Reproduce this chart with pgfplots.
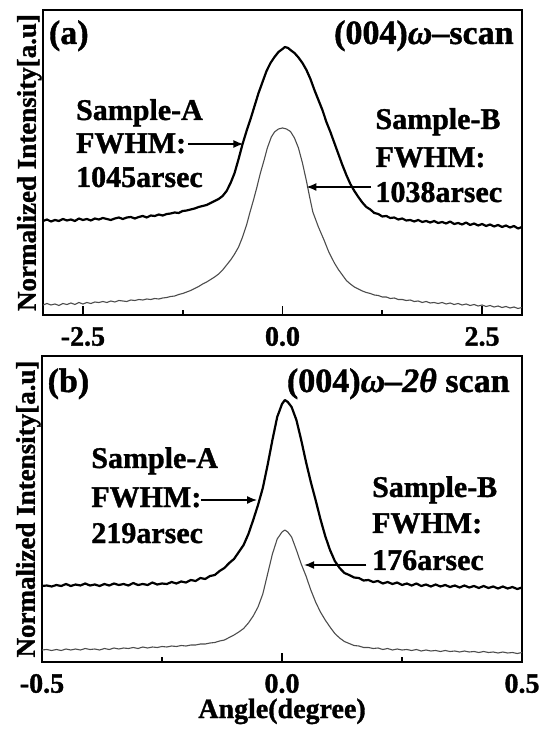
\documentclass[border=0pt]{standalone}
\usepackage{fontspec}
\setmainfont{Liberation Serif}[BoldFeatures={FakeBold=1.2}, BoldItalicFeatures={FakeBold=1.2}]
\usepackage{pgfplots}
\pgfplotsset{compat=1.18}
\usetikzlibrary{arrows.meta}
\newcommand{\ann}{\fontsize{15}{16}\selectfont\bfseries}
\newcommand{\ttl}{\fontsize{17}{18}\selectfont\bfseries}
\newcommand{\tck}{\fontsize{14}{15}\selectfont\bfseries}
\newcommand{\lab}{\fontsize{13.5}{15}\selectfont\bfseries}
\tikzset{arr/.style={black, line width=0.7pt, -{Latex[length=5pt,width=4pt]}}}
\pgfplotsset{
  panel/.style={
    anchor=south west, scale only axis,
    ymin=0, ytick=\empty,
    axis line style={line width=1.2pt},
    tick style={black, line width=0.8pt},
    tick align=inside, xtick pos=bottom,
    major tick length=4.5pt, minor tick length=2.5pt,
    xticklabel style={font=\tck, yshift=-2.5pt},
    every axis y label/.style={at={(rel axis cs:0,0.5)}, anchor=south, rotate=90, inner sep=0.5pt, font=\lab},
    ylabel={Normalized Intensity[a.u]},
    clip=true,
  },
  curveA/.style={black, line width=1.1pt, line join=round},
  curveB/.style={black!70, line width=0.55pt, line join=round},
}
\begin{document}
\begin{tikzpicture}
\path[use as bounding box] (-21pt,-36pt) rectangle (253pt,331pt);
% ---------------- panel (a)
\begin{axis}[panel, at={(0.5pt,173.5pt)}, width=239.5pt, height=152.5pt,
  xmin=-3, xmax=3, ymax=305,
  xtick={-2.5,0,2.5}, xticklabels={-2.5,0.0,2.5}, minor xtick={-1.25,1.25}]
\addplot[curveA] coordinates {
(-3.0,94) (-2.95,95.5) (-2.9,93.5) (-2.85,95) (-2.8,94) (-2.75,96) (-2.7,94.5) (-2.65,95.5) (-2.6,94)
(-2.55,96.5) (-2.5,95) (-2.45,96) (-2.4,94.5) (-2.35,96.5) (-2.3,95.5) (-2.25,97) (-2.2,96) (-2.15,95)
(-2.1,96.5) (-2.05,97.5) (-2.0,96) (-1.95,97.5) (-1.9,98) (-1.85,96.5) (-1.8,98) (-1.75,99) (-1.7,97.5)
(-1.65,99.5) (-1.6,99) (-1.55,100.5) (-1.5,99.5) (-1.45,101) (-1.4,101.5) (-1.35,102.5) (-1.3,102)
(-1.25,104) (-1.2,104.5) (-1.15,105.5) (-1.1,106.5) (-1.05,108) (-1.0,109) (-0.95,110) (-0.9,112)
(-0.85,114) (-0.8,116) (-0.75,119) (-0.7,124) (-0.65,132) (-0.6,142) (-0.55,156) (-0.5,171)
(-0.45,184) (-0.4,196) (-0.35,209) (-0.3,222) (-0.25,233) (-0.2,244) (-0.15,252) (-0.1,258)
(-0.05,263) (0.0,266) (0.03,268) (0.07,267) (0.1,265) (0.15,262) (0.2,257.5) (0.25,252) (0.3,245)
(0.35,236) (0.4,225) (0.45,215) (0.5,205) (0.55,193) (0.6,183) (0.65,172) (0.7,161) (0.75,150)
(0.8,140) (0.85,131) (0.9,124) (0.95,118) (1.0,112.5) (1.05,108) (1.1,105.5) (1.15,102) (1.2,101)
(1.25,98.5) (1.3,99) (1.35,97) (1.4,97.5) (1.45,95.5) (1.5,96.5) (1.55,94.5) (1.6,95) (1.65,93.5)
(1.7,95) (1.75,93) (1.8,94) (1.85,92.5) (1.9,94) (1.95,92) (2.0,93) (2.05,91.5) (2.1,93.5) (2.15,91)
(2.2,92) (2.25,90.5) (2.3,92.5) (2.35,90) (2.4,91.5) (2.45,89.5) (2.5,91) (2.55,89) (2.6,90.5)
(2.65,88.5) (2.7,90) (2.75,88) (2.8,89.5) (2.85,87.5) (2.9,89) (2.95,86.5) (3.0,88)
};
\addplot[curveB] coordinates {
(-3.0,10) (-2.95,11.5) (-2.9,10) (-2.85,11) (-2.8,9.5) (-2.75,11.5) (-2.7,10.5) (-2.65,12) (-2.6,10.5)
(-2.55,12.5) (-2.5,11) (-2.45,12.5) (-2.4,11.5) (-2.35,13) (-2.3,12.5) (-2.25,13.5) (-2.2,12.5)
(-2.15,14) (-2.1,13) (-2.05,14.5) (-2.0,14) (-1.95,13.5) (-1.9,15) (-1.85,14.5) (-1.8,15.5) (-1.75,15)
(-1.7,16) (-1.65,15.5) (-1.6,16.5) (-1.55,16) (-1.5,17) (-1.45,17.5) (-1.4,18.5) (-1.35,19) (-1.3,20.5)
(-1.25,21.5) (-1.2,23) (-1.15,24.5) (-1.1,26.5) (-1.05,28.5) (-1.0,31) (-0.95,33) (-0.9,35.5)
(-0.85,38) (-0.8,41) (-0.75,45) (-0.7,50) (-0.65,55) (-0.6,61) (-0.55,68) (-0.5,78) (-0.45,90)
(-0.41,102) (-0.36,116) (-0.32,128) (-0.28,141) (-0.23,155) (-0.19,167) (-0.14,178) (-0.1,183)
(-0.05,186) (0.0,187) (0.05,186) (0.1,183.5) (0.15,177) (0.2,167) (0.25,152) (0.3,134) (0.34,118)
(0.38,103) (0.45,88) (0.52,75) (0.58,63) (0.65,52) (0.7,45.5) (0.75,40) (0.8,34.5) (0.85,31)
(0.9,28) (0.95,26) (1.0,24) (1.05,22.5) (1.1,21.5) (1.15,20) (1.2,19.5) (1.25,18) (1.3,18) (1.35,16.5)
(1.4,17) (1.45,15.5) (1.5,15.5) (1.55,14.5) (1.6,15) (1.65,13.5) (1.7,14) (1.75,12.5) (1.8,13.5)
(1.85,12) (1.9,12.5) (1.95,11.5) (2.0,12.5) (2.05,11) (2.1,12) (2.15,10.5) (2.2,11.5) (2.25,10)
(2.3,11) (2.35,9.5) (2.4,10.5) (2.45,9) (2.5,10) (2.55,8.5) (2.6,9.5) (2.65,8) (2.7,9) (2.75,7.5)
(2.8,8.5) (2.85,7) (2.9,8) (2.95,6.5) (3.0,7.5)
};
\draw[arr] (axis cs:-1.18,171) -- (axis cs:-0.49,171);
\draw[arr] (axis cs:1.11,128) -- (axis cs:0.30,128);
\node[font=\ttl, anchor=base west, inner sep=0pt] at (axis cs:-2.93,271) {(a)};
\node[font=\ttl, anchor=base east, inner sep=0pt] at (axis cs:2.9,271) {(004){\itshape ω}–scan};
\node[font=\ann, anchor=base west, inner sep=0pt] at (axis cs:-2.59,195) {Sample-A};
\node[font=\ann, anchor=base west, inner sep=0pt] at (axis cs:-2.59,162) {FWHM:};
\node[font=\ann, anchor=base west, inner sep=0pt] at (axis cs:-2.59,128) {1045arsec};
\node[font=\ann, anchor=base west, inner sep=0pt] at (axis cs:1.16,186) {Sample-B};
\node[font=\ann, anchor=base west, inner sep=0pt] at (axis cs:1.16,148) {FWHM:};
\node[font=\ann, anchor=base west, inner sep=0pt] at (axis cs:1.16,113) {1038arsec};
\end{axis}
% ---------------- panel (b)
\begin{axis}[panel, at={(0pt,0pt)}, width=240pt, height=153pt,
  xmin=-0.5, xmax=0.5, ymax=306,
  xtick={-0.5,0,0.5}, xticklabels={-0.5,0.0,0.5}, minor xtick={-0.25,0.25},
  xlabel={Angle(degree)},
  every axis x label/.style={at={(axis description cs:0.5,0)}, anchor=base, yshift=-28pt, font=\tck}]
\addplot[curveA] coordinates {
(-0.5,76) (-0.49,76.5) (-0.48,75.5) (-0.47,77) (-0.46,76) (-0.45,78) (-0.44,76) (-0.43,77.5)
(-0.42,76.5) (-0.41,78.5) (-0.40,76.5) (-0.39,77.5) (-0.38,76) (-0.37,78) (-0.36,76.5) (-0.35,78.5)
(-0.34,77) (-0.33,78) (-0.32,76.5) (-0.31,79) (-0.30,77) (-0.29,78) (-0.28,77) (-0.27,79.5) (-0.26,77.5)
(-0.25,78.5) (-0.24,78) (-0.23,80) (-0.22,78.5) (-0.21,80.5) (-0.20,79.5) (-0.19,82) (-0.18,81)
(-0.17,84) (-0.16,83) (-0.15,86) (-0.14,87) (-0.13,91) (-0.12,94) (-0.11,99) (-0.10,103) (-0.09,110)
(-0.08,117) (-0.07,128) (-0.06,142) (-0.05,157) (-0.04,174) (-0.03,197) (-0.02,222) (-0.01,245)
(0.0,258) (0.006,262) (0.012,260) (0.02,255) (0.03,242) (0.04,222) (0.05,200) (0.06,180) (0.07,162)
(0.08,143) (0.09,126) (0.10,112) (0.11,101) (0.12,94) (0.13,89) (0.14,87) (0.15,84.5) (0.16,84)
(0.17,81.5) (0.18,82) (0.19,80) (0.20,81) (0.21,78.5) (0.22,80) (0.23,78) (0.24,79.5) (0.25,77)
(0.26,78.5) (0.27,76.5) (0.28,78.5) (0.29,76) (0.30,77.5) (0.31,75.5) (0.32,77.5) (0.33,75.5)
(0.34,77) (0.35,75) (0.36,76.5) (0.37,74.5) (0.38,76.5) (0.39,74.5) (0.40,76) (0.41,74) (0.42,76)
(0.43,74) (0.44,75.5) (0.45,73.5) (0.46,75.5) (0.47,73.5) (0.48,75) (0.49,73) (0.5,74.5)
};
\addplot[curveB] coordinates {
(-0.5,12) (-0.49,12.5) (-0.48,11.5) (-0.47,12.5) (-0.46,11.5) (-0.45,13) (-0.44,12) (-0.43,13)
(-0.42,12) (-0.41,13.5) (-0.40,12.5) (-0.39,13) (-0.38,12) (-0.37,13.5) (-0.36,12.5) (-0.35,14)
(-0.34,13) (-0.33,14) (-0.32,13.5) (-0.31,14.5) (-0.30,13.5) (-0.29,15) (-0.28,14) (-0.27,15)
(-0.26,14.5) (-0.25,15.5) (-0.24,15) (-0.23,16) (-0.22,15.5) (-0.21,16.5) (-0.20,16) (-0.19,17)
(-0.18,17) (-0.17,18) (-0.16,18) (-0.15,19) (-0.14,19.5) (-0.13,21) (-0.12,22) (-0.11,24.5)
(-0.10,27) (-0.09,30) (-0.08,33.5) (-0.07,39) (-0.06,46) (-0.05,55) (-0.04,68) (-0.03,88) (-0.02,108)
(-0.01,123) (0.0,130) (0.006,132) (0.012,130) (0.02,125) (0.03,112) (0.04,98) (0.05,86) (0.06,72)
(0.07,60) (0.08,50) (0.09,42) (0.10,35) (0.11,28.5) (0.12,24) (0.13,20.5) (0.14,18.5) (0.15,16.5)
(0.16,16) (0.17,14.5) (0.18,14.5) (0.19,13.5) (0.20,14) (0.21,12.5) (0.22,13.5) (0.23,12) (0.24,13)
(0.25,12) (0.26,12.5) (0.27,11.5) (0.28,12.5) (0.29,11) (0.30,12) (0.31,11) (0.32,11.5) (0.33,10.5)
(0.34,11.5) (0.35,10.5) (0.36,11) (0.37,10) (0.38,11) (0.39,10) (0.40,10.5) (0.41,9.5) (0.42,10.5)
(0.43,9.5) (0.44,10) (0.45,9) (0.46,10) (0.47,9) (0.48,9.5) (0.49,8.5) (0.5,9.5)
};
\draw[arr] (axis cs:-0.169,162) -- (axis cs:-0.052,162);
\draw[arr] (axis cs:0.176,97) -- (axis cs:0.046,97);
\node[font=\ttl, anchor=base west, inner sep=0pt] at (axis cs:-0.489,270) {(b)};
\node[font=\ttl, anchor=base east, inner sep=0pt] at (axis cs:0.475,270) {(004){\itshape ω–2θ} scan};
\node[font=\ann, anchor=base west, inner sep=0pt] at (axis cs:-0.398,194) {Sample-A};
\node[font=\ann, anchor=base west, inner sep=0pt] at (axis cs:-0.398,155) {FWHM:};
\node[font=\ann, anchor=base west, inner sep=0pt] at (axis cs:-0.398,119) {219arsec};
\node[font=\ann, anchor=base west, inner sep=0pt] at (axis cs:0.187,165) {Sample-B};
\node[font=\ann, anchor=base west, inner sep=0pt] at (axis cs:0.187,129) {FWHM:};
\node[font=\ann, anchor=base west, inner sep=0pt] at (axis cs:0.187,92) {176arsec};
\end{axis}
\end{tikzpicture}
\end{document}
